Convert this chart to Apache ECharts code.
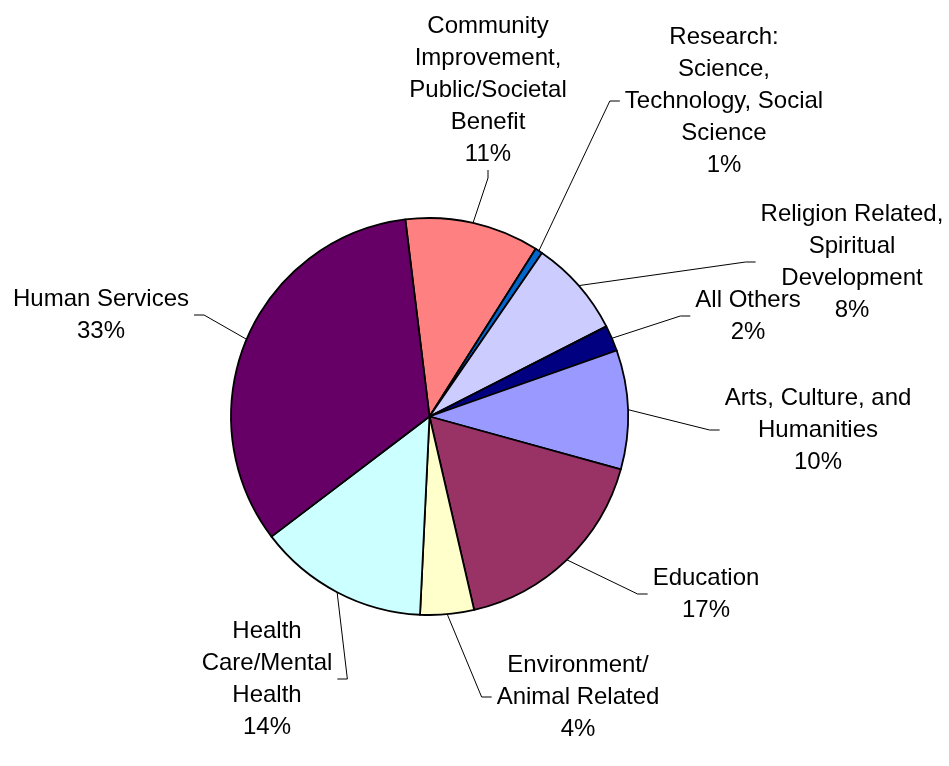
<!DOCTYPE html>
<html>
<head>
<meta charset="utf-8">
<script src="https://cdn.jsdelivr.net/npm/echarts@6/dist/echarts.min.js"></script>
<style>
  html, body { margin: 0; padding: 0; background: #fff; }
  #chart { width: 949px; height: 766px; }
</style>
</head>
<body>
<div id="chart"></div>
<script>
// ---- data ----
const categories = [
  'Community\nImprovement,\nPublic/Societal\nBenefit',
  'Research:\nScience,\nTechnology, Social\nScience',
  'Religion Related,\nSpiritual\nDevelopment',
  'All Others',
  'Arts, Culture, and\nHumanities',
  'Education',
  'Environment/\nAnimal Related',
  'Health\nCare/Mental\nHealth',
  'Human Services'
];
const shares = [10.93, 0.6, 7.91, 2.11, 9.68, 17.1, 4.37, 13.89, 33.4];
const sliceColors = ['#FF8080', '#0066CC', '#CCCCFF', '#000080', '#9999FF', '#993366', '#FFFFCC', '#CCFFFF', '#660066'];

// ---- layout (label block centres, like the reference) ----
const labelPlacement = [
  [488, 90], [724, 101], [852, 262], [748, 316], [818, 430],
  [706, 594], [578, 697], [267, 679], [101, 315]
];

const chart = echarts.init(document.getElementById('chart'), null, { renderer: 'canvas' });

const seriesData = categories.map((name, i) => ({
  name: name,
  value: shares[i],
  itemStyle: { color: sliceColors[i] },
  label: { padding: i === 0 ? [0, 5, 0, 5] : [100, 5, 100, 5] },
  labelLine: { length2: i === 0 ? 8 : 10 }
}));

chart.setOption({
  animation: false,
  backgroundColor: '#ffffff',
  series: [{
    type: 'pie',
    center: [429.5, 416.5],
    radius: [0, 198.5],
    startAngle: 97,
    clockwise: true,
    avoidLabelOverlap: false,
    itemStyle: { borderColor: '#000', borderWidth: 1.8 },
    emphasis: { disabled: true },
    label: {
      show: true,
      position: 'outside',
      color: '#000',
      fontFamily: 'Liberation Sans, Arial, sans-serif',
      fontSize: 24,
      lineHeight: 32,
      align: 'center',
      backgroundColor: 'rgba(0,0,0,0)',
      formatter: p => p.name + '\n' + Math.round(p.percent) + '%'
    },
    labelLine: {
      show: true,
      length: 15,
      length2: 10,
      minTurnAngle: 0,
      lineStyle: { color: '#000', width: 1 }
    },
    labelLayout: function (params) {
      const pos = labelPlacement[params.dataIndex];
      return { x: pos[0], y: pos[1], align: 'center', verticalAlign: 'middle' };
    },
    data: seriesData
  }]
});
</script>
</body>
</html>
